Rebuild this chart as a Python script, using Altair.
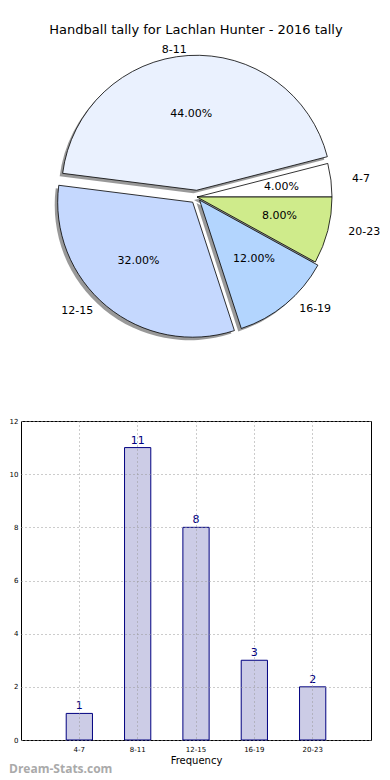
import altair as alt
import pandas as pd

categories = ["4-7", "8-11", "12-15", "16-19", "20-23"]
counts = [1, 11, 8, 3, 2]
explode = [0.0, 0.05, 0.05, 0.03, 0.0]
pie_colors = ["#ffffff", "#eaf1fe", "#c5d8fe", "#b3d5fe", "#cfeb8b"]
y_ticks = [0, 2, 4, 6, 8, 10, 12]

title_text = "Handball tally for Lachlan Hunter - 2016 tally"
x_title = "Frequency"
watermark = "Dream-Stats.com"

df = pd.DataFrame({"cat": categories, "val": counts, "explode": explode,
                   "idx": list(range(len(categories)))})

CX, CY, R = 176, 189, 135
RX, RY = 142, 128
PW, PH = 350, 400
BW, BH = 350, 319

base = (
    alt.Chart(df)
    .transform_joinaggregate(total="sum(val)")
    .transform_window(cum="sum(val)", sort=[alt.SortField("idx", order="descending")], frame=[None, 0])
    .transform_calculate(t1="PI/2 + 2*PI*datum.cum/datum.total")
    .transform_calculate(t0="datum.t1 - 2*PI*datum.val/datum.total")
    .transform_calculate(mid="(datum.t0 + datum.t1)/2")
    .transform_calculate(cx=f"{CX} + datum.explode*{R}*sin(datum.mid)")
    .transform_calculate(cy=f"{CY} - datum.explode*{R}*cos(datum.mid)")
    .transform_calculate(px=f"datum.cx + 0.6*{RX}*sin(datum.mid)")
    .transform_calculate(py=f"datum.cy - 0.6*{RY}*cos(datum.mid)")
    .transform_calculate(lx=f"datum.cx + 1.1*{RX}*sin(datum.mid)")
    .transform_calculate(ly=f"datum.cy - 1.1*{RY}*cos(datum.mid)")
    .transform_calculate(pct="format(100*datum.val/datum.total, '.2f') + '%'")
)

xe = alt.X("cx:Q", scale=None, axis=None)
ye = alt.Y("cy:Q", scale=None, axis=None)
th = alt.Theta("t0:Q", scale=None, stack=False)

shadow = base.mark_arc(radius=R, xOffset=-3, yOffset=3, color="#000000", opacity=0.4).encode(
    x=xe, y=ye, theta=th, theta2="t1:Q")
slices = base.mark_arc(radius=R, stroke="#000000", strokeWidth=0.8).encode(
    x=xe, y=ye, theta=th, theta2="t1:Q",
    color=alt.Color("cat:N", scale=alt.Scale(domain=categories, range=pie_colors), legend=None))
pct_text = base.mark_text(fontSize=11, font="DejaVu Sans", color="#000000").encode(
    x=alt.X("px:Q", scale=None, axis=None), y=alt.Y("py:Q", scale=None, axis=None), text="pct:N")
lab_left = base.transform_filter("sin(datum.mid) >= 0").mark_text(
    fontSize=11, font="DejaVu Sans", align="left", baseline="middle", color="#000000").encode(
    x=alt.X("lx:Q", scale=None, axis=None), y=alt.Y("ly:Q", scale=None, axis=None), text="cat:N")
lab_right = base.transform_filter("sin(datum.mid) < 0").mark_text(
    fontSize=11, font="DejaVu Sans", align="right", baseline="middle", color="#000000").encode(
    x=alt.X("lx:Q", scale=None, axis=None), y=alt.Y("ly:Q", scale=None, axis=None), text="cat:N")
title_mark = alt.Chart(pd.DataFrame({"t": [title_text]})).mark_text(
    fontSize=13, font="DejaVu Sans", color="#000000").encode(
    text="t:N", x=alt.value(175), y=alt.value(22))

pie = alt.layer(shadow, slices, pct_text, lab_left, lab_right, title_mark).properties(
    width=PW, height=PH, view=alt.ViewBackground(stroke=None))

grid_axis = dict(grid=True, gridDash=[1, 3], gridColor="#999999", gridWidth=1,
                 labelFontSize=7, labelFont="DejaVu Sans", labelColor="#000000",
                 ticks=False, domain=False, zindex=1)

xenc = alt.X("cat:N", sort=categories,
             scale=alt.Scale(paddingInner=0.55, paddingOuter=0.775),
             axis=alt.Axis(title=x_title, labelAngle=0, bandPosition=0.5, labelPadding=5,
                           titleFontSize=10, titleFont="DejaVu Sans", titleFontWeight="normal",
                           titlePadding=3, **grid_axis))
yenc = alt.Y("val:Q", scale=alt.Scale(domain=[0, 12], nice=False),
             axis=alt.Axis(title=None, values=y_ticks, labelPadding=3, **grid_axis))

bars = alt.Chart(df).mark_bar(fill="#ccccE6", stroke="#000080", strokeWidth=1).encode(x=xenc, y=yenc)
vals = alt.Chart(df).mark_text(dy=-7, fontSize=11, font="DejaVu Sans", color="#000080").encode(
    x=alt.X("cat:N", sort=categories), y="val:Q", text="val:Q")
wm = alt.Chart(pd.DataFrame({"w": [watermark]})).mark_text(
    align="left", baseline="middle", fontSize=12, fontWeight="bold", font="Open Sans",
    color="#aaaaaa").encode(text="w:N", x=alt.value(-12), y=alt.value(348))

bar_chart = alt.layer(bars, vals, wm).properties(
    width=BW, height=BH, view=alt.ViewBackground(stroke="#000000", strokeWidth=1))

chart = alt.vconcat(pie, bar_chart, spacing=8).properties(padding=0).configure_view(
    stroke=None).configure(font="DejaVu Sans")

chart.save("out.html", embed_options={"renderer": "svg", "actions": False})
